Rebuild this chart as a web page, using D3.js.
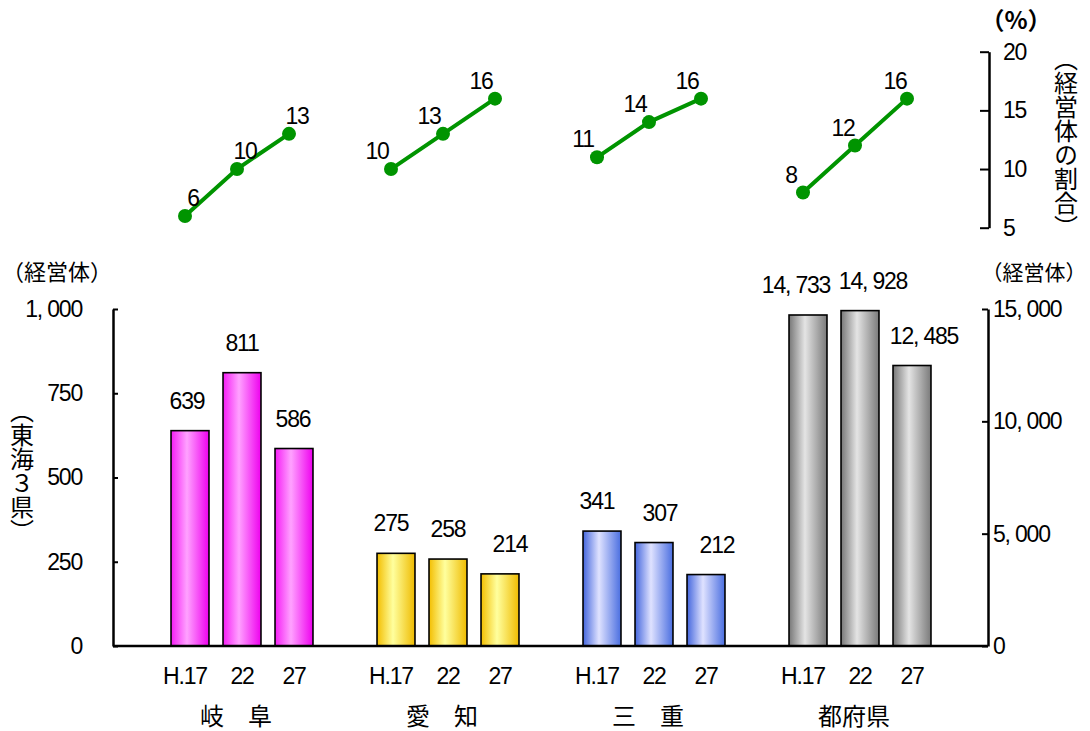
<!DOCTYPE html>
<html lang="ja">
<head>
<meta charset="utf-8">
<script src="https://cdn.jsdelivr.net/npm/d3@7"></script>
<style>
  html, body { margin: 0; padding: 0; background: #fff; }
  svg { display: block; }
  .num { font-family: "Liberation Sans", Arial, sans-serif; font-size: 23px; letter-spacing: -1.2px; fill: #000; }
  .jp  { font-family: "Noto Sans CJK JP", sans-serif; fill: #000; }
</style>
</head>
<body>
<svg id="chart" width="1090" height="731"></svg>
<script>
// ---- data ----
const groups = ["岐　阜", "愛　知", "三　重", "都府県"];
const years = ["H.17", "22", "27"];

// number of management bodies (東海3県: left axis, 都府県: right axis)
const gifuCount  = [639, 811, 586];
const aichiCount = [275, 258, 214];
const mieCount   = [341, 307, 212];
const prefCount  = [14733, 14928, 12485];

// share of management bodies (%)
const gifuShare  = [6, 10, 13];
const aichiShare = [10, 13, 16];
const mieShare   = [11, 14, 16];
const prefShare  = [8, 12, 16];

const leftTicks  = [0, 250, 500, 750, 1000];
const rightTicks = [0, 5000, 10000, 15000];
const shareTicks = [5, 10, 15, 20];

const counts = [gifuCount, aichiCount, mieCount, prefCount];
const shares = [gifuShare, aichiShare, mieShare, prefShare];

// ---- layout ----
const svg = d3.select("#chart");
const plotLeft = 113, plotRight = 988;
const baseY = 646, topY = 309;

const xGroup = d3.scaleBand().domain(groups).range([139, 963]).padding(0);
const xYear = d3.scaleBand().domain(years).range([-78, 78]).paddingInner(0.27).paddingOuter(0.135);
const yLeft = d3.scaleLinear().domain([0, 1000]).range([baseY, topY]);
const yRight = d3.scaleLinear().domain([0, 15000]).range([baseY, topY]);
const yShare = d3.scaleLinear().domain([5, 20]).range([227.7, 51.7]);

const barX = (g, yr) => xGroup(g) + xGroup.bandwidth() / 2 + xYear(yr);
const barCx = (g, yr) => barX(g, yr) + xYear.bandwidth() / 2;
const yFor = gi => (gi === 3 ? yRight : yLeft);

// bar gradients
const gradients = [
  ["gGifu",  ["#f51cf5", "#ffa2ff", "#ee00ee"]],
  ["gAichi", ["#f3be00", "#ffff9e", "#efbb00"]],
  ["gMie",   ["#4466dd", "#dfe2ff", "#4a6ee0"]],
  ["gPref",  ["#777777", "#e4e4e4", "#7a7a7a"]]
];
const defs = svg.append("defs");
gradients.forEach(([id, cols]) => {
  const lg = defs.append("linearGradient").attr("id", id).attr("x1", 0).attr("x2", 1).attr("y1", 0).attr("y2", 0);
  lg.append("stop").attr("offset", "0%").attr("stop-color", cols[0]);
  lg.append("stop").attr("offset", "42%").attr("stop-color", cols[1]);
  lg.append("stop").attr("offset", "100%").attr("stop-color", cols[2]);
});

const fmtComma = v => d3.format(",")(v).replace(/,/g, ", ");

// ---- bars ----
const barData = [];
groups.forEach((g, gi) => years.forEach((yr, yi) => barData.push({ g, gi, yr, yi, v: counts[gi][yi] })));

svg.append("g").selectAll("rect").data(barData).join("rect")
  .attr("x", d => barX(d.g, d.yr))
  .attr("width", xYear.bandwidth())
  .attr("y", d => yFor(d.gi)(d.v))
  .attr("height", d => baseY - yFor(d.gi)(d.v))
  .attr("fill", d => `url(#${gradients[d.gi][0]})`)
  .attr("stroke", "#000").attr("stroke-width", 1.6);

// value labels above bars (horizontal nudges per group / year)
const labelDx = [[-3, 0, -1], [-5, 0, 10], [-5, 6, 11], [-12, 13, 12]];
svg.append("g").selectAll("text").data(barData).join("text")
  .attr("class", "num")
  .attr("text-anchor", "middle")
  .attr("x", d => barCx(d.g, d.yr) + labelDx[d.gi][d.yi])
  .attr("y", d => yFor(d.gi)(d.v) - 22)
  .text(d => fmtComma(d.v));

// baseline
svg.append("line")
  .attr("x1", plotLeft).attr("x2", plotRight)
  .attr("y1", yLeft(0)).attr("y2", yLeft(0))
  .attr("stroke", "#000").attr("stroke-width", 2.5);

// ---- axes ----
const axL = svg.append("g").attr("transform", `translate(${plotLeft},0)`)
  .call(d3.axisLeft(yLeft).tickValues(leftTicks).tickSizeInner(-5).tickSizeOuter(0).tickPadding(31)
    .tickFormat(fmtComma));
const axR = svg.append("g").attr("transform", `translate(${plotRight},0)`)
  .call(d3.axisRight(yRight).tickValues(rightTicks).tickSizeInner(-6).tickSizeOuter(0).tickPadding(5)
    .tickFormat(fmtComma));
const axS = svg.append("g").attr("transform", "translate(989,0)")
  .call(d3.axisRight(yShare).tickValues(shareTicks).tickSizeInner(-9).tickSizeOuter(0).tickPadding(14)
    .tickFormat(d3.format("d")));
[axL, axR, axS].forEach(ax => {
  ax.select(".domain").attr("stroke", "#000").attr("stroke-width", 2.5);
  ax.selectAll(".tick line").attr("stroke", "#000").attr("stroke-width", 2);
  ax.selectAll(".tick text").attr("class", "num").attr("font-family", null).attr("font-size", null);
});

// year labels
svg.append("g").selectAll("text").data(barData).join("text")
  .attr("class", "num")
  .attr("text-anchor", "middle")
  .attr("x", d => barCx(d.g, d.yr) - (d.yi === 0 ? 5 : 0))
  .attr("y", 684)
  .text(d => d.yr);

// group labels
svg.append("g").selectAll("text").data(groups).join("text")
  .attr("class", "jp")
  .attr("font-size", 24)
  .attr("text-anchor", "middle")
  .attr("x", g => xGroup(g) + xGroup.bandwidth() / 2 - 6)
  .attr("y", 725)
  .text(g => g);

// ---- share lines ----
const line = d3.line().x(d => d.x).y(d => d.y);
const shareDx = [8, -14, -14, -12];
groups.forEach((g, gi) => {
  const pts = years.map((yr, yi) => ({ x: barCx(g, yr) - 5, y: yShare(shares[gi][yi]), v: shares[gi][yi] }));
  const grp = svg.append("g");
  grp.append("path").datum(pts).attr("d", line)
    .attr("fill", "none").attr("stroke", "#009400").attr("stroke-width", 4);
  grp.selectAll("circle").data(pts).join("circle")
    .attr("cx", d => d.x).attr("cy", d => d.y).attr("r", 7).attr("fill", "#009400");
  grp.selectAll("text").data(pts).join("text")
    .attr("class", "num").attr("text-anchor", "middle")
    .attr("x", d => d.x + shareDx[gi]).attr("y", d => d.y - 10)
    .text(d => d.v);
});

// ---- unit / axis titles ----
svg.append("text").attr("class", "jp").attr("font-size", 22).attr("text-anchor", "middle")
  .attr("x", 57).attr("y", 280).text("（経営体）");
svg.append("text").attr("class", "jp").attr("font-size", 21).attr("text-anchor", "middle")
  .attr("x", 1034).attr("y", 280).text("（経営体）");
svg.append("text").attr("class", "jp").attr("font-size", 24).attr("font-weight", "bold").attr("text-anchor", "middle")
  .attr("x", 1016).attr("y", 29).text("（%）");

svg.append("text").attr("class", "jp").attr("font-size", 24).attr("text-anchor", "middle")
  .style("writing-mode", "vertical-rl")
  .attr("x", 22).attr("y", 471).text("（東海３県）");
svg.append("text").attr("class", "jp").attr("font-size", 24).attr("text-anchor", "middle")
  .style("writing-mode", "vertical-rl")
  .attr("x", 1066).attr("y", 143).text("（経営体の割合）");
</script>
</body>
</html>
